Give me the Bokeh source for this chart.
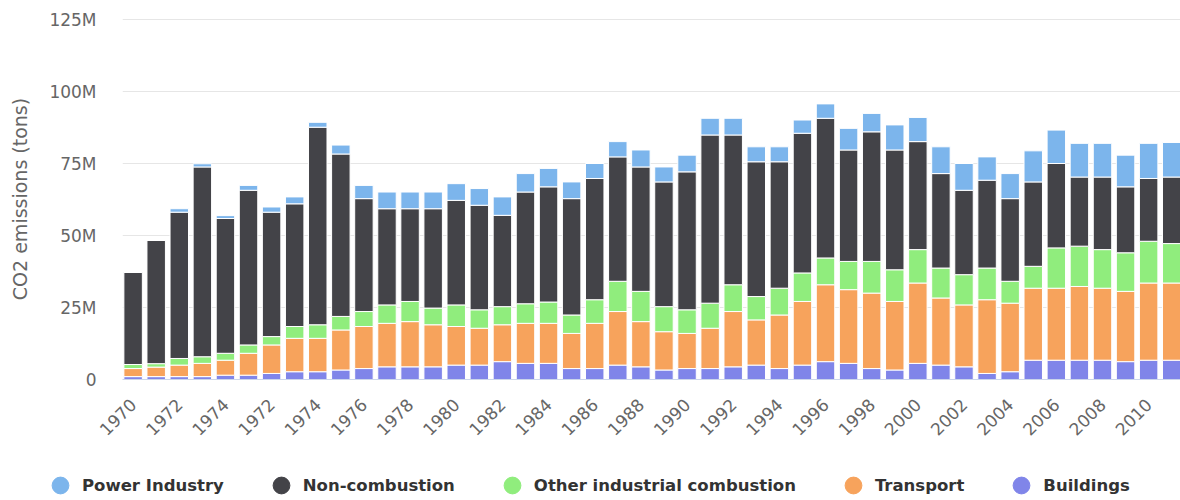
import math
from bokeh.plotting import figure
from bokeh.layouts import column
from bokeh.models import (ColumnDataSource, FixedTicker, Legend, LegendItem, Range1d)
from bokeh.embed import file_html
from bokeh.resources import INLINE

# Category labels (as shown on the original axis)
years = ["1970", "1971", "1972", "1973", "1974", "1975",
         "1972", "1973", "1974", "1975", "1976", "1977", "1978", "1979",
         "1980", "1981", "1982", "1983", "1984", "1985", "1986", "1987",
         "1988", "1989", "1990", "1991", "1992", "1993", "1994", "1995",
         "1996", "1997", "1998", "1999", "2000", "2001", "2002", "2003",
         "2004", "2005", "2006", "2007", "2008", "2009", "2010", "2011"]

# CO2 emissions, millions of tons
buildings = [1.0, 1.0, 1.0, 1.0, 1.5, 1.5, 2.1, 2.7, 2.7, 3.3, 3.8, 4.4, 4.4, 4.4,
             5.0, 5.0, 6.2, 5.6, 5.6, 3.8, 3.8, 5.0, 4.4, 3.3, 3.8, 3.8, 4.4, 5.0,
             3.8, 5.0, 6.2, 5.6, 3.8, 3.3, 5.6, 5.0, 4.4, 2.1, 2.7, 6.7, 6.7, 6.7,
             6.7, 6.2, 6.7, 6.7]
transport = [2.8, 3.3, 4.0, 4.6, 5.2, 7.6, 9.9, 11.6, 11.6, 13.9, 14.6, 15.1, 15.7,
             14.6, 13.4, 12.8, 12.8, 13.9, 13.9, 12.2, 15.7, 18.6, 15.7, 13.3, 12.2,
             14.0, 19.2, 15.7, 18.6, 22.1, 26.7, 25.6, 26.2, 23.8, 27.9, 23.3, 21.5,
             25.6, 23.8, 25.0, 25.0, 25.6, 25.0, 24.4, 26.8, 26.8]
other_industrial = [1.4, 1.2, 2.3, 2.3, 2.4, 2.9, 2.9, 4.1, 4.7, 4.7, 5.2, 6.4, 7.0,
                    5.8, 7.5, 6.4, 6.3, 6.8, 7.4, 6.4, 8.2, 10.5, 10.5, 8.7, 8.2, 8.7,
                    9.3, 8.1, 9.3, 9.9, 9.3, 9.8, 11.0, 11.0, 11.6, 10.4, 10.5, 11.0,
                    7.6, 7.6, 14.0, 14.0, 13.4, 13.4, 14.5, 13.7]
non_combustion = [32.0, 42.8, 50.8, 65.9, 46.8, 53.7, 43.2, 42.6, 68.6, 56.4, 39.2,
                  33.4, 32.2, 34.5, 36.3, 36.3, 31.7, 38.8, 40.0, 40.4, 42.1, 43.2,
                  43.2, 43.3, 47.9, 58.4, 52.0, 46.8, 43.9, 48.5, 48.5, 38.7, 45.0,
                  41.6, 37.5, 32.8, 29.3, 30.5, 28.7, 29.3, 29.3, 24.0, 25.2, 22.9,
                  21.8, 23.1]
power_industry = [0.0, 0.0, 1.2, 1.1, 1.0, 1.7, 1.8, 2.4, 1.7, 3.1, 4.6, 5.8, 5.8,
                  5.8, 5.8, 5.8, 6.4, 6.4, 6.4, 5.8, 5.2, 5.3, 5.9, 5.2, 5.8, 5.8,
                  5.8, 5.2, 5.2, 4.6, 5.0, 7.5, 6.4, 8.7, 8.4, 9.3, 9.3, 8.1, 8.7,
                  10.8, 11.6, 11.7, 11.7, 11.0, 12.2, 12.0]

y_ticks = [0, 25, 50, 75, 100, 125]
y_tick_labels = ["0", "25M", "50M", "75M", "100M", "125M"]

series_bottom_up = ["buildings", "transport", "other_industrial", "non_combustion", "power_industry"]
names_bottom_up = ["Buildings", "Transport", "Other industrial combustion", "Non-combustion", "Power Industry"]
colors_bottom_up = ["#8085e9", "#f7a35c", "#90ed7d", "#434348", "#7cb5ec"]

x = list(range(len(years)))
source = ColumnDataSource(dict(x=x, buildings=buildings, transport=transport,
                               other_industrial=other_industrial,
                               non_combustion=non_combustion,
                               power_industry=power_industry))

FONT = "DejaVu Sans"

p = figure(width=1180, height=470, output_backend="svg", toolbar_location=None,
           x_range=Range1d(-0.46, 45.38), y_range=Range1d(0, 125.35),
           min_border_left=122, min_border_right=0, min_border_top=18,
           min_border_bottom=91)
p.outline_line_color = None
p.background_fill_color = "white"
p.frame_align = False

p.vbar_stack(series_bottom_up, x="x", width=0.8, source=source,
             color=colors_bottom_up, line_color="white", line_width=1)

# axes
xa = p.xaxis[0]
xa.ticker = FixedTicker(ticks=x[::2])
xa.major_label_overrides = {i: years[i] for i in x}
xa.major_label_orientation = math.pi / 4
xa.major_label_text_font = FONT
xa.major_label_text_font_size = "17px"
xa.major_label_text_color = "#666666"
xa.major_label_standoff = 22
xa.major_tick_line_color = None
xa.major_tick_out = 0
xa.major_tick_in = 0
xa.minor_tick_line_color = None
xa.minor_tick_out = 0
xa.axis_line_color = "#ccd6eb"

ya = p.yaxis[0]
ya.ticker = FixedTicker(ticks=y_ticks)
ya.major_label_overrides = {t: l for t, l in zip(y_ticks, y_tick_labels)}
ya.major_label_text_font = FONT
ya.major_label_text_font_size = "17px"
ya.major_label_text_color = "#666666"
ya.major_label_standoff = 26
ya.major_tick_line_color = None
ya.major_tick_out = 0
ya.major_tick_in = 0
ya.minor_tick_line_color = None
ya.minor_tick_out = 0
ya.axis_line_color = None
ya.axis_label = "CO2 emissions (tons)"
ya.axis_label_text_font = FONT
ya.axis_label_text_font_size = "19px"
ya.axis_label_text_font_style = "normal"
ya.axis_label_text_color = "#666666"
ya.axis_label_standoff = 15

p.xgrid.grid_line_color = None
p.ygrid.grid_line_color = "#e6e6e6"
p.ygrid.grid_line_width = 1

# legend strip (circle markers) below the chart
lg = figure(width=1180, height=30, output_backend="svg", toolbar_location=None,
            x_axis_type=None, y_axis_type=None, x_range=Range1d(0, 1), y_range=Range1d(0, 1),
            min_border=0, min_border_left=0, min_border_right=0,
            min_border_top=0, min_border_bottom=0)
lg.outline_line_color = None
lg.frame_align = False
items = []
for name, col in zip(names_bottom_up[::-1], colors_bottom_up[::-1]):
    r = lg.scatter(x=[float("nan")], y=[float("nan")], marker="circle",
                   fill_color=col, line_color=col)
    items.append(LegendItem(label=name, renderers=[r]))

legend = Legend(items=items, orientation="horizontal", location=(39, -6),
                label_text_font=FONT, label_text_font_size="16.5px",
                label_text_font_style="bold",
                label_text_color="#333333", glyph_width=42, glyph_height=42,
                spacing=36, label_standoff=1, padding=0, margin=0,
                border_line_color=None, background_fill_alpha=0)
lg.add_layout(legend)

layout = column(p, lg, spacing=0)
open("out.html", "w").write(file_html(layout, INLINE))
